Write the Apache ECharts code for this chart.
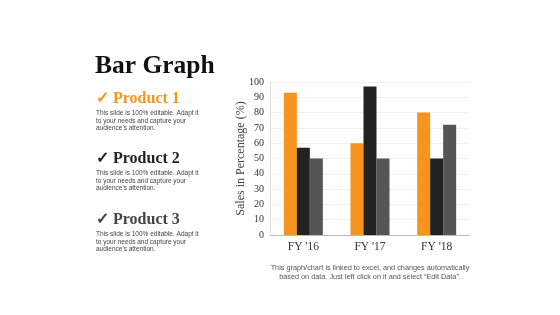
<!DOCTYPE html>
<html>
<head>
<meta charset="utf-8">
<script src="https://cdn.jsdelivr.net/npm/echarts@6/dist/echarts.min.js"></script>
<style>
  html, body { margin: 0; padding: 0; background: #fff; }
  #chart { width: 560px; height: 315px; }
</style>
</head>
<body>
<div id="chart"></div>
<script>
// data
var categories = ["FY '16", "FY '17", "FY '18"];
var product1 = [93, 60, 80];
var product2 = [57, 97, 50];
var product3 = [50, 50, 72];
var yTicks = [0, 10, 20, 30, 40, 50, 60, 70, 80, 90, 100];

var serif = '"Liberation Serif", "DejaVu Serif", serif';
var sans = '"Liberation Sans", Arial, sans-serif';
var desc = 'This slide is 100% editable. Adapt it\nto your needs and capture your\naudience\'s attention.';

var chart = echarts.init(document.getElementById('chart'));

// left side text blocks
var blocks = [
  { name: 'Product 1', color: '#f7941d', y: 101 },
  { name: 'Product 2', color: '#222222', y: 161 },
  { name: 'Product 3', color: '#444444', y: 222 }
];
var graphic = [
  { type: 'text', left: 95, top: 53,
    style: { text: 'Bar Graph', font: 'bold 25.5px ' + serif, fill: '#111' } }
];
blocks.forEach(function (b) {
  graphic.push({ type: 'text', left: 96, top: b.y - 10,
    style: { text: '\u2713 ' + b.name, font: 'bold 16px ' + serif, fill: b.color } });
  graphic.push({ type: 'text', left: 96, top: b.y + 9,
    style: { text: desc, font: '6.5px ' + sans, fill: '#444', lineHeight: 7.3 } });
});
// footer note, centred under the plot
graphic.push({ type: 'text', x: 370, y: 263,
  style: { text: 'This graph/chart is linked to excel, and changes automatically\nbased on data. Just left click on it and select \u201cEdit Data\u201d.',
    font: '7.3px ' + sans, fill: '#555', align: 'center', lineHeight: 9 } });

var option = {
  animation: false,
  graphic: graphic,
  grid: { left: 270, right: 90, top: 82, bottom: 80 },
  xAxis: {
    type: 'category',
    data: categories,
    axisLine: { lineStyle: { color: '#bbb' } },
    axisTick: { show: false },
    axisLabel: { fontFamily: serif, fontSize: 11.5, color: '#333', margin: 6 }
  },
  yAxis: {
    type: 'value',
    min: yTicks[0],
    max: yTicks[yTicks.length - 1],
    interval: 10,
    name: 'Sales in Percentage (%)',
    nameLocation: 'middle',
    nameGap: 23,
    nameMoveOverlap: false,
    nameTextStyle: { fontFamily: serif, fontSize: 12, color: '#444' },
    axisLine: { show: true, lineStyle: { color: '#ddd' } },
    axisTick: { show: false },
    axisLabel: { fontFamily: serif, fontSize: 10, color: '#333', margin: 6 },
    splitLine: { lineStyle: { color: '#f0f0f0' } }
  },
  series: [
    { type: 'bar', data: product1, barWidth: 13, barGap: '0%', itemStyle: { color: '#f7941d' } },
    { type: 'bar', data: product2, barWidth: 13, barGap: '0%', itemStyle: { color: '#222222' } },
    { type: 'bar', data: product3, barWidth: 13, barGap: '0%', itemStyle: { color: '#555555' } }
  ]
};
chart.setOption(option);
</script>
</body>
</html>
